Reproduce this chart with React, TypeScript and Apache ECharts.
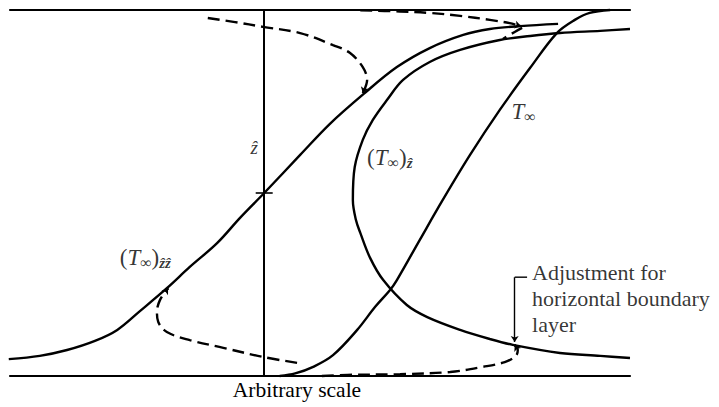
import { useEffect, useRef } from 'react';
import * as echarts from 'echarts';

const SERIF = '"Liberation Serif", "Times New Roman", "DejaVu Serif", serif';
const INK = '#000000';

// Horizontal "arbitrary scale" and vertical coordinate ẑ (0 = lower boundary, 100 = upper boundary)
const X_MIN = -41;
const X_MAX = 59;
const Z_MIN = 0;
const Z_MAX = 100;
const Z_MID = 50;

// (T∞)ẑẑ : S-shaped profile crossing the ẑ axis at mid-depth
const curveZZ: [number, number][] = [
  [-41.2, 4.6], [-36.2, 5.5], [-31.8, 7.1], [-27.3, 9.6], [-23.7, 12.6], [-20.0, 17.8],
  [-15.7, 24.0], [-12.0, 29.8], [-7.6, 36.3], [-3.9, 43.2], [0, 50], [5.8, 60.4],
  [10.6, 68.9], [16.0, 77.0], [21.4, 84.4], [26.7, 89.6], [32.1, 93.2], [36.4, 94.8],
  [41.3, 95.6], [47.4, 96.2],
];

// (T∞)ẑ : C-shaped profile
const curveZ: [number, number][] = [
  [59.0, 94.8], [54.2, 94.3], [47.7, 93.7], [42.9, 92.9], [38.0, 91.8], [31.6, 89.1],
  [26.7, 85.8], [22.4, 80.9], [19.8, 75.4], [17.5, 69.9], [15.9, 64.5], [14.6, 57.1],
  [14.3, 48.1], [14.8, 42.6], [15.5, 39.1], [17.1, 32.2], [19.2, 26.2], [23.0, 19.4],
  [26.3, 16.1], [31.6, 12.6], [36.4, 10.1], [40.1, 8.5], [47.7, 6.3], [54.2, 5.5],
  [59.0, 4.9],
];

// T∞ : monotonic profile from the lower to the upper boundary
const curveT: [number, number][] = [
  [2.5, 0], [5.0, 0.7], [7.9, 2.5], [11.1, 5.7], [15.0, 12.6], [17.9, 18.9],
  [20.3, 23.5], [21.4, 26.2], [25.1, 37.2], [28.8, 48.1], [33.2, 60.4], [38.0, 72.7],
  [42.9, 84.2], [47.2, 93.7], [50.1, 97.3], [52.5, 99.2], [55.8, 100],
];

// Boundary-layer adjustments (dashed)
const dashUpper: [number, number][] = [
  [-9.1, 97.8], [-4.7, 96.7], [-0.2, 95.4], [5.8, 93.7], [11.1, 90.4], [13.8, 88.3],
  [15.9, 84.4], [16.6, 80.9], [15.9, 77.3],
];
const dashTop: [number, number][] = [
  [15.5, 99.9], [21.9, 99.6], [26.7, 99.2], [31.6, 98.4], [36.4, 97.3], [39.6, 96.4],
  [41.4, 95.6],
];
const dashTopHook: [number, number][] = [
  [41.6, 95.1], [40.4, 94.0], [38.5, 92.1],
];
const dashLower: [number, number][] = [
  [5.3, 3.6], [-0.2, 5.2], [-6.6, 7.7], [-12.0, 9.8], [-15.7, 12.0], [-17.1, 14.8],
  [-17.3, 17.5], [-16.8, 20.8], [-15.5, 24.0],
];
const dashBottom: [number, number][] = [
  [9.3, 0], [13.4, 0.3], [21.9, 0.5], [30.0, 1.1], [35.3, 2.5], [38.8, 3.8],
  [40.6, 5.5], [40.9, 7.1], [40.4, 8.5],
];

// Pointer from the note down to the lower boundary layer
const leaderStub: [number, number][] = [[42.4, 27.0], [40.4, 27.0]];
const leaderDrop: [number, number][] = [[40.4, 27.0], [40.4, 9.3]];

// Text anchors
const labelZZ: [number, number] = [-23.3, 32.4];
const labelZ: [number, number] = [16.6, 59.8];
const labelT: [number, number] = [39.9, 72.4];
const labelAxis: [number, number] = [-1.6, 62.3];
const labelNote: [number, number] = [43.2, 21.3];

const NOTE_LINES = ['Adjustment for', 'horizontal boundary', 'layer'];

function arrowTip(pts: [number, number][]): [number, number][] {
  const a = pts[pts.length - 2];
  const b = pts[pts.length - 1];
  const f = 0.7;
  return [[a[0] + (b[0] - a[0]) * f, a[1] + (b[1] - a[1]) * f], b];
}

const solid = (data: [number, number][]) => ({
  type: 'line',
  data,
  smooth: 0.35,
  showSymbol: false,
  symbol: 'none',
  clip: false,
  lineStyle: { color: INK, width: 2.4 },
  silent: true,
});

const dashed = (data: [number, number][]) => ({
  type: 'line',
  data,
  smooth: 0.35,
  showSymbol: false,
  symbol: 'none',
  clip: false,
  lineStyle: { color: INK, width: 2.4, type: [12, 6] },
  silent: true,
});

const rich = {
  p: { fontFamily: SERIF, fontSize: 23, color: INK },
  t: { fontFamily: SERIF, fontSize: 23, fontStyle: 'italic', color: INK },
  s: { fontFamily: SERIF, fontSize: 16, color: INK, verticalAlign: 'bottom' },
  u: { fontFamily: SERIF, fontSize: 15, fontStyle: 'italic', fontWeight: 'bold', color: INK, verticalAlign: 'bottom' },
  a: { fontFamily: SERIF, fontSize: 19, fontStyle: 'italic', color: INK },
};

const textPoint = (coord: [number, number], formatter: string, extra: object = {}) => ({
  value: coord,
  label: {
    show: true,
    position: 'inside',
    align: 'left',
    verticalAlign: 'middle',
    formatter,
    rich,
    fontFamily: SERIF,
    fontSize: 23,
    color: INK,
    lineHeight: 26,
    ...extra,
  },
});

export default function App() {
  const ref = useRef<HTMLDivElement>(null);

  useEffect(() => {
    if (!ref.current) return;
    const chart = echarts.init(ref.current, undefined, { renderer: 'svg' });

    const hiddenAxis = {
      axisTick: { show: false },
      axisLabel: { show: false },
      splitLine: { show: false },
    };

    chart.setOption({
      animation: false,
      backgroundColor: '#ffffff',
      grid: { left: 10, top: 10, width: 620, height: 366, containLabel: false },
      xAxis: [
        {
          type: 'value',
          min: X_MIN,
          max: X_MAX,
          position: 'bottom',
          axisLine: { show: true, onZero: false, lineStyle: { color: INK, width: 2.2 } },
          ...hiddenAxis,
          name: 'Arbitrary scale',
          nameLocation: 'middle',
          nameGap: 3,
          nameTextStyle: {
            fontFamily: SERIF,
            fontSize: 21.5,
            color: INK,
            padding: [0, 46, 0, 0],
          },
        },
        {
          type: 'value',
          min: X_MIN,
          max: X_MAX,
          position: 'top',
          axisLine: { show: true, onZero: false, lineStyle: { color: INK, width: 2.2 } },
          ...hiddenAxis,
        },
      ],
      yAxis: {
        type: 'value',
        min: Z_MIN,
        max: Z_MAX,
        axisLine: { show: true, onZero: true, lineStyle: { color: INK, width: 2 } },
        ...hiddenAxis,
      },
      series: [
        solid(curveZZ),
        solid(curveZ),
        solid(curveT),
        dashed(dashUpper),
        dashed(dashTop),
        dashed(dashTopHook),
        dashed(dashLower),
        dashed(dashBottom),
        {
          type: 'line',
          data: leaderStub,
          showSymbol: false,
          symbol: 'none',
          clip: false,
          lineStyle: { color: INK, width: 1.4 },
          silent: true,
        },
        {
          type: 'lines',
          coordinateSystem: 'cartesian2d',
          polyline: false,
          symbol: ['none', 'arrow'],
          symbolSize: 6,
          lineStyle: { color: INK, width: 2.2, opacity: 1 },
          silent: true,
          data: [
            { coords: arrowTip(dashUpper) },
            { coords: arrowTip(dashTop) },
            { coords: arrowTip(dashLower) },
            { coords: arrowTip(dashBottom) },
          ],
        },
        {
          type: 'lines',
          coordinateSystem: 'cartesian2d',
          polyline: false,
          symbol: ['none', 'arrow'],
          symbolSize: 6,
          lineStyle: { color: INK, width: 1.4, opacity: 1 },
          silent: true,
          data: [{ coords: leaderDrop }],
        },
        {
          // mid-depth mark on the ẑ axis
          type: 'scatter',
          data: [[0, Z_MID]],
          symbol: 'rect',
          symbolSize: [17, 2],
          itemStyle: { color: INK },
          clip: false,
          silent: true,
        },
        {
          type: 'scatter',
          symbolSize: 0,
          clip: false,
          silent: true,
          itemStyle: { color: 'transparent' },
          data: [
            textPoint(labelZZ, '{p|(}{t|T}{s|∞}{p|)}{u|ẑẑ}'),
            textPoint(labelZ, '{p|(}{t|T}{s|∞}{p|)}{u|ẑ}'),
            textPoint(labelT, '{t|T}{s|∞}'),
            textPoint(labelAxis, '{a|ẑ}', { align: 'center' }),
            textPoint(labelNote, NOTE_LINES.join('\n'), { fontSize: 22, lineHeight: 26 }),
          ],
        },
      ],
    });

    return () => chart.dispose();
  }, []);

  return (
    <div
      ref={ref}
      style={{ position: 'fixed', left: 0, top: 0, width: 719, height: 407, background: '#fff' }}
    />
  );
}
